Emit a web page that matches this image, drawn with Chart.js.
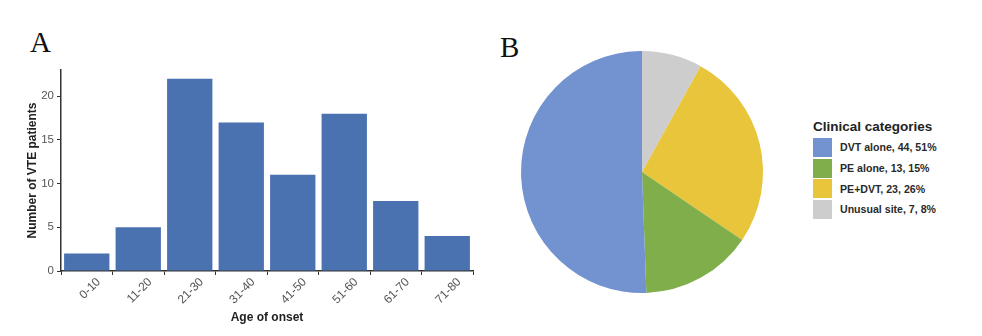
<!DOCTYPE html>
<html>
<head>
<meta charset="utf-8">
<script src="https://cdn.jsdelivr.net/npm/chart.js@4/dist/chart.umd.min.js"></script>
<style>
  body { margin: 0; background: #fff; width: 982px; height: 336px; overflow: hidden; position: relative; font-family: "Liberation Sans", Arial, sans-serif; }
  .panel { position: absolute; font-family: "Liberation Serif", "Times New Roman", serif; font-size: 29px; color: #111; }
  #barCanvas { position: absolute; left: 0; top: 0; }
  #pieCanvas { position: absolute; left: 490px; top: 0; }
  #legend { position: absolute; left: 813px; top: 119px; color: #2a2a2a; }
  #legend .ttl { font-weight: bold; font-size: 13.5px; margin-bottom: 3px; color: #222; }
  #legend .row { display: flex; align-items: center; height: 20.7px; font-weight: bold; font-size: 10.6px; }
  #legend .box { width: 19px; height: 19px; margin-right: 8px; }
</style>
</head>
<body>
<div class="panel" style="left:30px; top:26px;">A</div>
<div class="panel" style="left:500px; top:31px;">B</div>
<canvas id="barCanvas" width="490" height="336"></canvas>
<canvas id="pieCanvas" width="300" height="336"></canvas>
<div id="legend"></div>

<script>
// panel A: age of onset
var ageGroups = ["0-10", "11-20", "21-30", "31-40", "41-50", "51-60", "61-70", "71-80"];
var patientCounts = [2, 5, 22, 17, 11, 18, 8, 4];

// panel B: clinical categories
var categoryNames = ["DVT alone", "PE alone", "PE+DVT", "Unusual site"];
var categoryCounts = [44, 13, 23, 7];
var categoryPercents = [51, 15, 26, 8];
var categoryColors = ["#7293cf", "#7fae4b", "#e8c53a", "#cdcdcd"];

var axisColor = "#333";
var tickColor = "#555";

function drawAgeBars() {
  var ctx = document.getElementById("barCanvas");
  new Chart(ctx, {
    type: 'bar',
    data: {
      labels: ageGroups,
      datasets: [{
        data: patientCounts,
        backgroundColor: "#4a71b0",
        borderWidth: 0,
        barPercentage: 0.88,
        categoryPercentage: 1
      }]
    },
    options: {
      responsive: false,
      animation: false,
      layout: { padding: { left: 22, right: 17, top: 70, bottom: 11 } },
      plugins: { legend: { display: false }, tooltip: { enabled: false } },
      scales: {
        x: {
          grid: { drawOnChartArea: false, tickLength: 4, color: axisColor },
          border: { color: axisColor, width: 1.5 },
          ticks: { minRotation: 45, maxRotation: 45, labelOffset: 12, color: tickColor, font: { family: "Liberation Sans", size: 12 }, padding: 0 },
          title: { display: true, text: "Age of onset", color: "#222", font: { family: "Liberation Sans", size: 12, weight: 'bold' }, padding: 0 },
          afterFit: function(scale) { scale.height = 54; }
        },
        y: {
          min: 0,
          max: 23,
          grid: { drawOnChartArea: false, tickLength: 4, color: axisColor },
          border: { color: axisColor, width: 1.5 },
          ticks: { stepSize: 5, includeBounds: false, color: tickColor, font: { family: "Liberation Sans", size: 11.5 }, padding: 3 },
          title: { display: true, text: "Number of VTE patients", color: "#222", font: { family: "Liberation Sans", size: 12, weight: 'bold' }, padding: 3 },
          afterFit: function(scale) { scale.width = 39; }
        }
      }
    }
  });
}

function drawCategoryPie() {
  // drawn clockwise from the top, so the order is flipped to get DVT on the left
  var ctx = document.getElementById("pieCanvas");
  new Chart(ctx, {
    type: 'pie',
    data: {
      labels: categoryNames.slice().reverse(),
      datasets: [{
        data: categoryCounts.slice().reverse(),
        backgroundColor: categoryColors.slice().reverse(),
        borderWidth: 0
      }]
    },
    options: {
      responsive: false,
      animation: false,
      layout: { padding: { left: 31, right: 27, top: 51, bottom: 43 } },
      plugins: { legend: { display: false }, tooltip: { enabled: false } }
    }
  });

  var lg = document.getElementById("legend");
  var html = '<div class="ttl">Clinical categories</div>';
  for (var i = 0; i < categoryNames.length; i++) {
    html += '<div class="row"><div class="box" style="background:' + categoryColors[i] + '"></div>' +
      categoryNames[i] + ', ' + categoryCounts[i] + ', ' + categoryPercents[i] + '%</div>';
  }
  lg.innerHTML = html;
}

drawAgeBars();
drawCategoryPie();
</script>
</body>
</html>
